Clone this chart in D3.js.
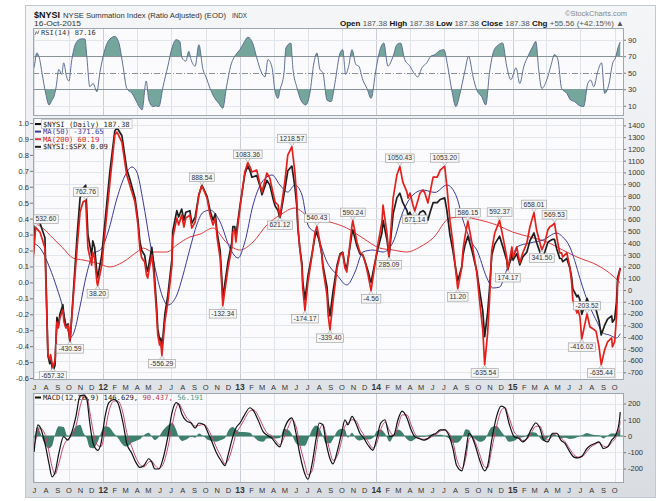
<!DOCTYPE html>
<html>
<head>
<meta charset="utf-8">
<script src="https://cdn.jsdelivr.net/npm/d3@7/dist/d3.min.js"></script>
<style>
body { margin: 0; background: #fff; }
svg { display: block; }
text { font-family: "Liberation Sans", Arial, sans-serif; }
</style>
</head>
<body>
<script>
// ---- data ----
// summation index: dates shared by $NYSI and the $NYSI:$SPX ratio
var sumDates = [
  "2011-06-27","2011-07-04","2011-07-16","2011-07-29","2011-08-06","2011-08-11","2011-08-13","2011-08-19","2011-08-25","2011-08-30","2011-09-03","2011-09-07","2011-09-15","2011-09-18","2011-09-23","2011-09-29","2011-10-04","2011-10-23","2011-10-31","2011-11-08","2011-11-15","2011-11-21","2011-12-01","2011-12-04","2011-12-09","2011-12-15","2011-12-17","2011-12-28",
  "2012-01-19","2012-02-01","2012-02-07","2012-02-20","2012-03-04","2012-03-12","2012-03-26","2012-04-03","2012-04-08","2012-04-13","2012-04-21","2012-04-26","2012-04-29","2012-05-05","2012-05-10","2012-05-15","2012-05-23","2012-05-26","2012-05-31","2012-06-03","2012-06-06","2012-06-14","2012-06-22","2012-07-03","2012-07-05","2012-07-16","2012-07-21","2012-07-29","2012-08-04","2012-08-09","2012-08-20","2012-08-25","2012-09-03","2012-09-13","2012-09-21","2012-10-05","2012-10-13","2012-10-21","2012-10-27","2012-11-01","2012-11-09","2012-11-14","2012-11-16","2012-11-30","2012-12-10","2012-12-13","2012-12-18","2012-12-21",
  "2013-01-01","2013-01-14","2013-01-22","2013-01-28","2013-02-02","2013-02-15","2013-02-24","2013-03-01","2013-03-14","2013-03-22","2013-03-30","2013-04-05","2013-04-13","2013-04-18","2013-05-01","2013-05-09","2013-05-20","2013-05-28","2013-06-02","2013-06-05","2013-06-10","2013-06-16","2013-06-18","2013-06-24","2013-07-02","2013-07-13","2013-07-21","2013-07-26","2013-08-03","2013-08-08","2013-08-11","2013-08-22","2013-08-25","2013-08-30","2013-09-07","2013-09-18","2013-09-26","2013-10-03","2013-10-09","2013-10-14","2013-10-17","2013-10-28","2013-10-30","2013-11-10","2013-11-18","2013-11-26","2013-12-02","2013-12-10","2013-12-15","2013-12-18","2013-12-28",
  "2014-01-05","2014-01-16","2014-01-19","2014-01-30","2014-02-04","2014-02-15","2014-02-25","2014-03-05","2014-03-13","2014-03-24","2014-03-27","2014-04-01","2014-04-09","2014-04-14","2014-04-28","2014-05-06","2014-05-11","2014-05-19","2014-05-25","2014-06-02","2014-06-13","2014-06-21","2014-07-03","2014-07-09","2014-07-17","2014-07-25","2014-08-02","2014-08-07","2014-08-18","2014-08-21","2014-08-26","2014-09-03","2014-09-14","2014-09-17","2014-09-27","2014-10-05","2014-10-13","2014-10-18","2014-10-26","2014-10-31","2014-11-06","2014-11-14","2014-11-27","2014-12-06","2014-12-16","2014-12-19","2014-12-30",
  "2015-01-02","2015-01-07","2015-01-12","2015-01-20","2015-01-28","2015-02-08","2015-02-16","2015-02-27","2015-03-06","2015-03-15","2015-03-20","2015-03-28","2015-04-05","2015-04-10","2015-04-18","2015-04-23","2015-04-29","2015-05-07","2015-05-12","2015-05-15","2015-05-26","2015-06-03","2015-06-08","2015-06-11","2015-06-22","2015-06-25","2015-06-30","2015-07-05","2015-07-19","2015-07-27","2015-08-04","2015-08-12","2015-08-20","2015-08-26","2015-09-04","2015-09-12","2015-09-23","2015-09-25","2015-10-01","2015-10-06","2015-10-09","2015-10-16"
];
var nysiValues = [
  250,532.6,490,357,-550,-595,-550,-657.32,-600,-272,-323,-238,-170,-272,-323,-298,-430.59,357,663,748,762.76,357,212,323,272,68,38.2,212,
  920,1318,1343,1258,978,893,748,553,357,272,238,127,102,212,298,153,-213,-383,-468,-442,-556.29,-272,-102,212,442,612,553,637,536,612,637,527,578,808,888.54,782,637,553,612,442,272,0,-132.34,187,357,493,510,408,
  697,1003,1083.36,1046,1003,1020,893,833,995,952,833,748,723,621.12,918,1148,1218.57,1003,782,553,357,187,17,-174.17,68,298,493,540.43,408,298,187,-43,-213,-339.4,-102,187,298,315,187,153,238,553,590.24,408,323,298,238,127,43,-4.56,212,
  383,578,722,468,285.09,782,978,1050.43,918,833,782,825,723,671.14,825,850,825,740,833,960,960,1020,1053.2,876,595,400,150,11.2,196,340,450,586.15,400,340,145,-110,-340,-635.54,-365,-85,340,485,592.37,450,281,174.17,366,
  280,315,366,230,315,400,536,658.01,510,400,341.5,400,510,536,553,569.53,450,315,315,281,315,196,60,-85,-196,-170,-230,-416.02,-203.52,-315,-330,-350,-480,-635.44,-510,-442,-408,-485,-440,-230,60,187.38
];
var ratioValues = [
  0.15,0.40,0.37,0.28,-0.46,-0.51,-0.47,-0.56,-0.52,-0.22,-0.27,-0.20,-0.14,-0.22,-0.28,-0.26,-0.38,0.29,0.53,0.59,0.61,0.30,0.17,0.26,0.22,0.06,0.03,0.17,
  0.70,0.95,0.97,0.92,0.71,0.65,0.53,0.39,0.26,0.20,0.17,0.09,0.07,0.15,0.22,0.12,-0.16,-0.29,-0.36,-0.35,-0.42,-0.20,-0.08,0.15,0.32,0.45,0.41,0.46,0.39,0.44,0.45,0.37,0.41,0.55,0.61,0.54,0.45,0.39,0.43,0.31,0.20,0.00,-0.10,0.13,0.25,0.35,0.35,0.29,
  0.48,0.68,0.73,0.70,0.66,0.67,0.60,0.55,0.64,0.61,0.53,0.48,0.45,0.40,0.58,0.70,0.73,0.60,0.48,0.34,0.22,0.12,0.01,-0.11,0.04,0.18,0.29,0.32,0.24,0.18,0.11,-0.03,-0.13,-0.21,-0.06,0.11,0.18,0.19,0.11,0.09,0.14,0.31,0.33,0.23,0.18,0.17,0.13,0.07,0.02,0.00,0.12,
  0.21,0.31,0.39,0.26,0.16,0.43,0.53,0.56,0.50,0.45,0.42,0.44,0.39,0.37,0.44,0.45,0.44,0.39,0.44,0.50,0.50,0.52,0.53,0.45,0.30,0.20,0.08,0.01,0.10,0.17,0.23,0.29,0.20,0.17,0.07,-0.06,-0.18,-0.34,-0.19,-0.04,0.17,0.24,0.29,0.22,0.14,0.08,0.18,
  0.14,0.16,0.18,0.11,0.16,0.19,0.26,0.31,0.25,0.19,0.16,0.19,0.25,0.26,0.27,0.27,0.21,0.15,0.15,0.13,0.15,0.09,0.03,-0.04,-0.09,-0.08,-0.11,-0.20,-0.10,-0.15,-0.16,-0.17,-0.24,-0.33,-0.27,-0.23,-0.21,-0.25,-0.23,-0.12,0.03,0.09
];
// peaks and troughs that carry a value box
var labelDates = ["2011-07-04","2011-08-19","2011-10-04","2011-11-15","2011-12-17","2012-06-06","2012-09-21","2012-11-16","2013-01-22","2013-04-18","2013-05-20","2013-06-24","2013-07-26","2013-08-30","2013-10-30","2013-12-18","2014-02-04","2014-03-05","2014-04-14","2014-07-03","2014-08-07","2014-09-03","2014-10-18","2014-11-27","2014-12-19","2015-02-27","2015-03-20","2015-04-23","2015-07-05","2015-07-19","2015-08-26"];

var ma50 = [
  ["2011-06-27",400],["2011-07-16",357],["2011-08-11",187],["2011-08-30",17],["2011-09-15",-153],["2011-09-26",-323],["2011-10-07",-400],["2011-10-15",-357],["2011-10-30",-153],["2011-11-17",127],["2011-12-04",298],["2011-12-28",357],
  ["2012-01-14",493],["2012-02-07",782],["2012-02-29",978],["2012-03-18",1046],["2012-03-31",1003],["2012-04-17",748],["2012-05-05",408],["2012-05-23",127],["2012-06-09",-68],["2012-06-22",-128],["2012-07-16",-43],["2012-08-01",120],["2012-08-20",350],["2012-09-08",560],["2012-09-24",660],["2012-10-13",680],["2012-11-09",578],["2012-12-05",357],["2012-12-27",272],
  ["2013-01-14",408],["2013-02-05",723],["2013-03-01",918],["2013-03-28",978],["2013-04-18",893],["2013-05-09",833],["2013-05-28",893],["2013-06-16",808],["2013-07-02",553],["2013-07-26",468],["2013-08-22",238],["2013-09-18",127],["2013-10-14",43],["2013-11-05",153],["2013-11-26",323],["2013-12-23",340],
  ["2014-01-19",323],["2014-02-15",408],["2014-03-13",663],["2014-04-09",808],["2014-05-06",850],["2014-06-07",830],["2014-07-09",893],["2014-08-04",791],["2014-08-21",595],["2014-09-14",400],["2014-09-27",340],["2014-10-23",110],["2014-11-09",17],["2014-11-27",25],["2014-12-16",170],
  ["2015-01-01",281],["2015-01-12",366],["2015-02-16",400],["2015-03-23",425],["2015-04-29",485],["2015-05-15",451],["2015-06-03",366],["2015-06-16",250],["2015-06-30",100],["2015-07-13",-30],["2015-07-27",-145],["2015-08-15",-272],["2015-08-31",-366],["2015-09-17",-383],["2015-10-06",-408],["2015-10-16",-371.65]
];
var ma200 = [
  ["2011-06-27",578],["2011-07-23",527],["2011-08-19",442],["2011-09-15",357],["2011-10-12",272],["2011-11-08",255],["2011-12-15",230],
  ["2012-01-19",196],["2012-02-23",238],["2012-03-31",323],["2012-04-17",357],["2012-05-13",323],["2012-06-19",323],["2012-07-16",383],["2012-08-20",451],["2012-09-16",475],["2012-10-21",527],["2012-11-27",400],
  ["2013-01-01",340],["2013-02-05",408],["2013-03-14",553],["2013-04-18",637],["2013-05-28",697],["2013-07-08",612],["2013-08-30",578],["2013-10-14",527],["2013-11-26",442],
  ["2014-01-10",357],["2014-02-15",340],["2014-03-24",323],["2014-04-28",366],["2014-06-02",442],["2014-07-17",612],["2014-08-21",620],["2014-10-05",595],["2014-11-19",553],
  ["2015-01-01",493],["2015-02-16",451],["2015-04-03",408],["2015-05-15",340],["2015-06-22",281],["2015-08-15",212],["2015-09-17",145],["2015-10-16",60.19]
];

var rsi = [
  ["2011-06-27",55],["2011-06-30",57],["2011-07-07",74],["2011-07-15",66],["2011-07-21",50],["2011-07-31",25],["2011-08-09",11],["2011-08-17",17],["2011-08-22",21],["2011-08-28",33],["2011-09-04",54],["2011-09-12",48],["2011-09-17",62],["2011-09-25",45],["2011-10-01",40],["2011-10-09",66],["2011-10-20",86],["2011-11-02",91],["2011-11-13",91],["2011-11-18",70],["2011-11-26",33],["2011-12-05",37],["2011-12-15",27],["2011-12-23",50],
  ["2012-01-03",74],["2012-01-14",88],["2012-02-01",94],["2012-02-12",86],["2012-02-23",58],["2012-03-04",31],["2012-03-18",25],["2012-03-28",17],["2012-04-06",9],["2012-04-14",5],["2012-04-25",40],["2012-05-02",17],["2012-05-13",9],["2012-05-21",10],["2012-05-29",9],["2012-06-09",33],["2012-06-22",58],["2012-07-03",80],["2012-07-14",90],["2012-07-24",88],["2012-07-30",68],["2012-08-09",64],["2012-08-17",76],["2012-08-23",66],["2012-09-03",58],["2012-09-13",84],["2012-09-24",54],["2012-10-02",45],["2012-10-13",31],["2012-10-23",21],["2012-11-05",13],["2012-11-16",7],["2012-11-26",33],["2012-12-07",58],["2012-12-21",72],
  ["2013-01-01",78],["2013-01-11",86],["2013-01-22",93],["2013-02-04",86],["2013-02-15",68],["2013-02-26",52],["2013-03-09",45],["2013-03-17",66],["2013-03-28",56],["2013-04-05",27],["2013-04-13",19],["2013-04-18",29],["2013-04-29",50],["2013-05-04",80],["2013-05-17",86],["2013-05-23",54],["2013-06-02",33],["2013-06-13",17],["2013-06-26",11],["2013-07-07",25],["2013-07-18",62],["2013-07-26",74],["2013-08-03",54],["2013-08-11",50],["2013-08-22",17],["2013-09-02",15],["2013-09-12",37],["2013-09-26",74],["2013-10-03",78],["2013-10-11",48],["2013-10-19",58],["2013-10-28",78],["2013-11-07",60],["2013-11-15",58],["2013-11-26",41],["2013-12-07",31],["2013-12-18",19],["2013-12-31",54],
  ["2014-01-11",78],["2014-01-21",86],["2014-02-01",58],["2014-02-15",70],["2014-02-25",84],["2014-03-07",86],["2014-03-18",66],["2014-04-01",58],["2014-04-11",50],["2014-04-22",45],["2014-05-03",56],["2014-05-16",62],["2014-05-27",70],["2014-06-07",72],["2014-06-17",76],["2014-07-01",78],["2014-07-11",58],["2014-07-22",29],["2014-08-02",9],["2014-08-12",23],["2014-08-26",52],["2014-09-05",70],["2014-09-17",45],["2014-09-27",29],["2014-10-10",21],["2014-10-21",11],["2014-10-31",50],["2014-11-11",76],["2014-11-24",84],["2014-12-05",86],["2014-12-16",58],["2014-12-27",41.5],
  ["2015-01-10",56],["2015-01-20",37],["2015-01-31",58],["2015-02-11",70],["2015-02-24",82],["2015-03-04",88],["2015-03-12",52],["2015-03-20",31],["2015-04-02",41],["2015-04-13",58],["2015-04-23",72],["2015-05-02",66],["2015-05-12",31],["2015-05-26",25],["2015-06-05",17],["2015-06-16",15],["2015-06-26",11],["2015-07-10",9],["2015-07-21",37],["2015-07-29",41],["2015-08-06",33],["2015-08-17",52],["2015-08-27",62],["2015-09-04",25],["2015-09-15",35],["2015-09-26",62],["2015-10-03",68],["2015-10-11",82],["2015-10-16",87.16]
];

// MACD(12,26,9): line, signal and histogram on shared dates
var macdDates = [
  "2011-06-30","2011-07-10","2011-07-15","2011-07-29","2011-08-09","2011-08-17","2011-08-25","2011-09-04","2011-09-17","2011-09-28","2011-10-06","2011-10-20","2011-10-31","2011-11-10","2011-11-18","2011-11-26","2011-12-05","2011-12-18","2011-12-26",
  "2012-01-06","2012-01-16","2012-01-30","2012-02-09","2012-02-23","2012-03-04","2012-03-18","2012-03-28","2012-04-08","2012-04-19","2012-05-02","2012-05-10","2012-05-18","2012-05-29","2012-06-09","2012-06-22","2012-07-03","2012-07-14","2012-07-21","2012-07-30","2012-08-12","2012-08-23","2012-09-03","2012-09-13","2012-09-27","2012-10-08","2012-10-18","2012-10-29","2012-11-11","2012-11-22","2012-11-30","2012-12-13","2012-12-21",
  "2013-01-01","2013-01-11","2013-01-28","2013-02-07","2013-02-20","2013-03-04","2013-03-14","2013-03-28","2013-04-07","2013-04-18","2013-04-29","2013-05-12","2013-05-20","2013-05-31","2013-06-10","2013-06-24","2013-07-02","2013-07-13","2013-07-24","2013-08-01","2013-08-11","2013-08-19","2013-08-30","2013-09-07","2013-09-18","2013-10-01","2013-10-09","2013-10-17","2013-10-28","2013-11-07","2013-11-18","2013-11-29","2013-12-10","2013-12-23",
  "2014-01-02","2014-01-13","2014-01-24","2014-02-06","2014-02-17","2014-02-28","2014-03-11","2014-03-24","2014-04-04","2014-04-14","2014-04-25","2014-05-09","2014-05-19","2014-05-30","2014-06-10","2014-06-21","2014-07-03","2014-07-14","2014-07-25","2014-08-04","2014-08-18","2014-08-29","2014-09-06","2014-09-14","2014-09-24","2014-10-05","2014-10-18","2014-10-26","2014-11-06","2014-11-19","2014-12-01","2014-12-11","2014-12-22",
  "2015-01-05","2015-01-18","2015-01-28","2015-02-08","2015-02-19","2015-03-04","2015-03-15","2015-03-25","2015-04-05","2015-04-18","2015-04-29","2015-05-10","2015-05-21","2015-06-03","2015-06-14","2015-06-25","2015-07-05","2015-07-19","2015-07-29","2015-08-09","2015-08-20","2015-09-01","2015-09-12","2015-09-23","2015-10-04","2015-10-14","2015-10-16"
];
var macdLine = [
  -98,69,59,-46,-172,-251,-224,-109,-4,-25,6,121,247,251,226,80,-46,-88,-46,
  121,205,226,205,80,-46,-109,-161,-193,-182,-140,-161,-203,-203,-140,-4,142,205,195,132,90,80,48,80,69,17,-36,-98,-151,-182,-119,-4,48,
  80,121,174,153,90,27,6,-15,-46,-67,38,100,111,17,-109,-235,-266,-172,-15,80,69,-36,-140,-172,-98,27,100,69,121,80,17,-15,-57,-88,
  -15,80,100,-4,6,100,153,111,38,-4,-15,-25,-15,6,17,38,38,6,-77,-182,-214,-88,17,-4,-67,-151,-214,-182,-25,121,184,174,80,
  -4,-15,-36,-15,38,80,48,-25,-36,17,17,-25,-46,-98,-130,-135,-125,-77,-57,-46,-36,-77,-67,-25,6,100,146.629
];
var macdSignal = [
  -60,20,50,10,-100,-190,-235,-170,-60,-20,-5,60,180,240,240,150,30,-60,-65,
  30,150,215,215,140,20,-70,-130,-175,-190,-160,-155,-180,-200,-175,-70,60,170,200,165,110,85,60,65,72,40,-5,-65,-125,-170,-150,-60,10,
  55,95,155,160,120,60,20,0,-30,-55,-10,65,100,60,-50,-175,-240,-215,-80,30,70,10,-95,-150,-125,-20,60,80,100,95,45,5,-35,-75,
  -45,40,85,30,0,60,130,130,70,15,-10,-20,-18,-3,10,30,38,20,-35,-140,-200,-130,-20,-5,-45,-115,-190,-195,-80,60,155,175,115,
  25,-5,-28,-20,15,60,60,5,-25,0,15,-10,-35,-80,-115,-130,-128,-95,-68,-52,-40,-62,-68,-40,-10,60,90.437
];
var macdHist = [
  -30,60,30,-50,-75,-60,10,60,55,-5,10,60,70,15,-15,-70,-75,-30,20,
  60,55,15,-10,-55,-65,-40,-30,-20,5,20,-5,-25,-5,35,65,80,40,-5,-30,-20,-5,-10,15,-5,-25,-30,-35,-25,-12,30,55,40,
  25,25,20,-5,-30,-35,-15,-15,-15,-12,45,35,10,-45,-60,-60,-25,40,65,50,0,-45,-45,-20,30,45,40,-10,20,-15,-28,-20,-22,-12,
  30,40,15,-35,6,40,25,-20,-32,-20,-5,-5,3,9,7,8,0,-14,-42,-42,-14,42,37,1,-22,-36,-24,13,55,61,29,-1,-35,
  -29,-10,-8,5,23,20,-12,-30,-11,17,2,-15,-11,-18,-15,-5,3,18,11,6,4,-15,1,15,16,40,56.191
];

var mainTicksRight = d3.range(-700, 1401, 100);
var mainTicksLeft = d3.range(-6, 11).map(function(d){ return d / 10; });
var rsiTicks = [10, 30, 50, 70, 90];
var macdTicks = [-200, -100, 0, 100, 200];
var monthLetters = ["J","F","M","A","M","J","J","A","S","O","N","D"];

// ---- layout ----
var width = 662, height = 501;
var left = 33, right = 624;
var rsiTop = 28, rsiBottom = 116, mainTop = 118, mainBottom = 380, macdTop = 393, macdBottom = 483;

var parse = d3.timeParse("%Y-%m-%d");
function zip(dates, vals){ return dates.map(function(d, i){ return [parse(d), vals[i]]; }); }
function pairs(arr){ return arr.map(function(d){ return [parse(d[0]), d[1]]; }); }

var nysi = zip(sumDates, nysiValues);
var ratio = zip(sumDates, ratioValues);
var ma50Data = pairs(ma50), ma200Data = pairs(ma200), rsiData = pairs(rsi);
var macdData = zip(macdDates, macdLine), sigData = zip(macdDates, macdSignal), histData = zip(macdDates, macdHist);

var x = d3.scaleTime().domain([parse("2011-06-27"), parse("2015-10-26")]).range([left, right]);
var yRsi = d3.scaleLinear().domain([0, 100]).range([114, 31.5]);
var yN = d3.scaleLinear().domain([0, 1400]).range([290, 125.4]);
var yR = d3.scaleLinear().domain([0, 1]).range([282.4, 123]);
var yM = d3.scaleLinear().domain([-200, 200]).range([468.5, 403.5]);

var svg = d3.select("body").append("svg").attr("width", width).attr("height", height);
var defs = svg.append("defs");
var grad = defs.append("linearGradient").attr("id", "frameGrad").attr("x1", 0).attr("y1", 0).attr("x2", 0).attr("y2", 1);
grad.append("stop").attr("offset", "0%").attr("stop-color", "#f5f6f8");
grad.append("stop").attr("offset", "100%").attr("stop-color", "#d9dde2");

svg.append("rect").attr("x", 25.5).attr("y", 5.5).attr("width", 630).attr("height", 492)
  .attr("fill", "url(#frameGrad)").attr("stroke", "#c3c8ce");

function clip(id, top, bottom){
  defs.append("clipPath").attr("id", id).append("rect")
    .attr("x", left).attr("y", top).attr("width", right - left).attr("height", bottom - top);
}
clip("clipRsi", rsiTop, rsiBottom);
clip("clipMain", mainTop, mainBottom);
clip("clipMacd", macdTop, macdBottom);
defs.append("clipPath").attr("id", "clipHi").append("rect")
  .attr("x", left).attr("y", rsiTop).attr("width", right - left).attr("height", yRsi(70) - rsiTop);
defs.append("clipPath").attr("id", "clipLo").append("rect")
  .attr("x", left).attr("y", yRsi(30)).attr("width", right - left).attr("height", rsiBottom - yRsi(30));

var quarters = x.ticks(d3.timeMonth.every(3));

function panelBg(top, bottom){
  svg.append("rect").attr("x", left).attr("y", top).attr("width", right - left).attr("height", bottom - top)
    .attr("fill", "#fbfbfd");
  svg.append("g").selectAll("line").data(quarters).enter().append("line")
    .attr("x1", function(d){ return Math.round(x(d)) + 0.5; })
    .attr("x2", function(d){ return Math.round(x(d)) + 0.5; })
    .attr("y1", top).attr("y2", bottom)
    .attr("stroke", function(d){ return d.getMonth() === 0 ? "#c9ced6" : "#dfe2e7"; });
}
function panelBorder(top, bottom){
  svg.append("rect").attr("x", left + 0.5).attr("y", top + 0.5).attr("width", right - left - 1).attr("height", bottom - top - 1)
    .attr("fill", "none").attr("stroke", "#9ea6b0");
}
function hLines(values, scale, color){
  svg.append("g").selectAll("line").data(values).enter().append("line")
    .attr("x1", left).attr("x2", right)
    .attr("y1", function(d){ return Math.round(scale(d)) + 0.5; })
    .attr("y2", function(d){ return Math.round(scale(d)) + 0.5; })
    .attr("stroke", color);
}
function rightAxis(scale, values){
  var g = svg.append("g").attr("transform", "translate(" + right + ",0)")
    .call(d3.axisRight(scale).tickValues(values).tickSize(2).tickPadding(2).tickFormat(function(d){ return String(d); }));
  g.select(".domain").remove();
  g.attr("font-family", "Liberation Sans, Arial, sans-serif").attr("font-size", 7.5);
  g.selectAll("text").attr("fill", "#333");
  g.selectAll("line").attr("stroke", "#777");
}

// ---- header ----
svg.append("text").attr("x", 34).attr("y", 18).attr("textLength", 26).attr("lengthAdjust", "spacingAndGlyphs")
  .style("font-size", "9.5px").style("font-weight", "bold").attr("fill", "#111").text("$NYSI");
svg.append("text").attr("x", 63).attr("y", 17.5).attr("textLength", 163).attr("lengthAdjust", "spacingAndGlyphs")
  .style("font-size", "7.2px").attr("fill", "#333").text("NYSE Summation Index (Ratio Adjusted) (EOD)");
svg.append("text").attr("x", 232).attr("y", 17.5).attr("textLength", 15).attr("lengthAdjust", "spacingAndGlyphs")
  .style("font-size", "6.5px").attr("fill", "#333").text("INDX");
svg.append("text").attr("x", 34).attr("y", 25.5).attr("textLength", 47).attr("lengthAdjust", "spacingAndGlyphs")
  .style("font-size", "8px").attr("fill", "#333").text("16-Oct-2015");
svg.append("text").attr("x", 565).attr("y", 16).attr("textLength", 62).attr("lengthAdjust", "spacingAndGlyphs")
  .style("font-size", "7.5px").attr("fill", "#888").text("©StockCharts.com");
var quote = svg.append("text").attr("x", 340).attr("y", 25.5).attr("textLength", 284).attr("lengthAdjust", "spacingAndGlyphs")
  .style("font-size", "8px").attr("fill", "#555");
[["Open", true], [" 187.38 ", false], ["High", true], [" 187.38 ", false], ["Low", true], [" 187.38 ", false],
 ["Close", true], [" 187.38 ", false], ["Chg", true], [" +55.56 (+42.15%) ▲", false]].forEach(function(p){
  quote.append("tspan").style("font-weight", p[1] ? "bold" : "normal").attr("fill", p[1] ? "#111" : "#555").text(p[0]);
});

// ---- RSI panel ----
panelBg(rsiTop, rsiBottom);
hLines([10, 90], yRsi, "#e2e5ea");
hLines([30, 70], yRsi, "#8c9198");
svg.append("line").attr("x1", left).attr("x2", right).attr("y1", Math.round(yRsi(50)) + 0.5).attr("y2", Math.round(yRsi(50)) + 0.5)
  .attr("stroke", "#8c9198").attr("stroke-dasharray", "6,2,1,2");
var rsiG = svg.append("g").attr("clip-path", "url(#clipRsi)");
rsiG.append("path").datum(rsiData).attr("clip-path", "url(#clipHi)").attr("fill", "#74a69c")
  .attr("d", d3.area().x(function(d){ return x(d[0]); }).y0(yRsi(70)).y1(function(d){ return yRsi(d[1]); }).curve(d3.curveMonotoneX));
rsiG.append("path").datum(rsiData).attr("clip-path", "url(#clipLo)").attr("fill", "#74a69c")
  .attr("d", d3.area().x(function(d){ return x(d[0]); }).y0(yRsi(30)).y1(function(d){ return yRsi(d[1]); }).curve(d3.curveMonotoneX));
rsiG.append("path").datum(rsiData).attr("fill", "none").attr("stroke", "#5e6f96").attr("stroke-width", 1)
  .attr("d", d3.line().x(function(d){ return x(d[0]); }).y(function(d){ return yRsi(d[1]); }).curve(d3.curveMonotoneX));
panelBorder(rsiTop, rsiBottom);
rightAxis(yRsi, rsiTicks);
svg.append("path").attr("d", "M35,35 L36.3,31.5 L37.6,34 L39,30.5").attr("fill", "none").attr("stroke", "#666").attr("stroke-width", 0.8);
svg.append("text").attr("x", 41).attr("y", 35).style("font-family", "DejaVu Sans Mono, monospace").style("font-size", "7px")
  .attr("fill", "#333").text("RSI(14) 87.16");

// ---- main panel ----
panelBg(mainTop, mainBottom);
hLines(mainTicksRight, yN, "#e3e6ea");
var mainG = svg.append("g").attr("clip-path", "url(#clipMain)");
function lineN(scale){ return d3.line().x(function(d){ return x(d[0]); }).y(function(d){ return scale(d[1]); }); }
mainG.append("path").datum(ma200Data).attr("fill", "none").attr("stroke", "#e03a3a").attr("stroke-width", 1)
  .attr("d", lineN(yN).curve(d3.curveMonotoneX));
mainG.append("path").datum(ma50Data).attr("fill", "none").attr("stroke", "#3a3a9c").attr("stroke-width", 1)
  .attr("d", lineN(yN).curve(d3.curveMonotoneX));
mainG.append("path").datum(ratio).attr("fill", "none").attr("stroke", "#1e1e1e").attr("stroke-width", 1.7)
  .attr("stroke-linejoin", "round").attr("d", lineN(yR));
mainG.append("path").datum(nysi).attr("fill", "none").attr("stroke", "#e3201b").attr("stroke-width", 1.7)
  .attr("stroke-linejoin", "round").attr("d", lineN(yN));

// value boxes on peaks and troughs
var labG = svg.append("g");
labelDates.forEach(function(ds){
  var i = sumDates.indexOf(ds), v = nysiValues[i];
  var nb = [nysiValues[i - 1], nysiValues[i + 1]].filter(function(a){ return a !== undefined; });
  var peak = nb.every(function(a){ return v > a; });
  var px = x(parse(ds)), py = yN(v);
  var t = labG.append("text").style("font-size", "6.8px").attr("fill", "#333").text(v.toFixed(2));
  var w = t.node().getComputedTextLength() + 4, h = 8.5;
  var bx = Math.max(left + 0.5, Math.min(right - w - 1, px - w / 2));
  var by = peak ? py - 4 - h : py + 4;
  var ey = peak ? by + h : by;
  labG.insert("path", "text").attr("d", "M" + (px - 2.5) + "," + ey + " L" + px + "," + (peak ? py - 0.5 : py + 0.5) + " L" + (px + 2.5) + "," + ey)
    .attr("fill", "#f6f6f6").attr("stroke", "#999").attr("stroke-width", 0.6);
  labG.insert("rect", "text").attr("x", bx).attr("y", by).attr("width", w).attr("height", h)
    .attr("fill", "#f6f6f6").attr("stroke", "#999").attr("stroke-width", 0.6);
  t.attr("x", bx + 2).attr("y", by + h - 2);
});

panelBorder(mainTop, mainBottom);
rightAxis(yN, mainTicksRight);
var la = svg.append("g").attr("transform", "translate(" + left + ",0)")
  .call(d3.axisLeft(yR).tickValues(mainTicksLeft).tickSize(3).tickPadding(1).tickFormat(function(d){ return d.toFixed(1); }));
la.select(".domain").remove();
la.attr("font-family", "Liberation Sans, Arial, sans-serif").attr("font-size", 7.5);
la.selectAll("text").attr("fill", "#333");
la.selectAll("line").attr("stroke", "#777");

// legend
var legend = [
  ["$NYSI (Daily) 187.38", "#111", "#222"],
  ["MA(50) -371.65", "#3a3a9c", "#3a3a9c"],
  ["MA(200) 60.19", "#e03a3a", "#d42020"],
  ["$NYSI:$SPX 0.09", "#1e1e1e", "#222"]
];
legend.forEach(function(l, i){
  var cy = 124 + i * 7.6;
  var t = svg.append("text").attr("x", 43).attr("y", cy + 2.5).style("font-family", "DejaVu Sans Mono, monospace")
    .style("font-size", "7.2px").attr("fill", l[2]).text(l[0]);
  if (i === 0) {
    var w = t.node().getComputedTextLength();
    svg.insert("rect", function(){ return t.node(); }).attr("x", 41.5).attr("y", cy - 4.3).attr("width", w + 4).attr("height", 8.6)
      .attr("fill", "#fff").attr("stroke", "#aaa").attr("stroke-width", 0.6);
  }
  svg.append("line").attr("x1", 35).attr("x2", 41).attr("y1", cy).attr("y2", cy).attr("stroke", l[1]).attr("stroke-width", 2);
});

// month rows
var months = d3.timeMonths(parse("2011-07-01"), parse("2015-10-02"));
function monthRow(yBase){
  svg.append("g").selectAll("text").data(months).enter().append("text")
    .attr("x", function(d){ return x(d); }).attr("y", yBase).attr("text-anchor", "middle")
    .style("font-size", function(d){ return d.getMonth() === 0 ? "8.5px" : "7.5px"; })
    .style("font-weight", function(d){ return d.getMonth() === 0 ? "bold" : "normal"; })
    .attr("fill", "#333")
    .text(function(d){ return d.getMonth() === 0 ? d3.timeFormat("%y")(d) : monthLetters[d.getMonth()]; });
}
monthRow(390);
monthRow(493);

// ---- MACD panel ----
panelBg(macdTop, macdBottom);
hLines(macdTicks, yM, "#e3e6ea");
var macdG = svg.append("g").attr("clip-path", "url(#clipMacd)");
macdG.append("path").datum(histData).attr("fill", "#3f7f6d")
  .attr("d", d3.area().x(function(d){ return x(d[0]); }).y0(yM(0)).y1(function(d){ return yM(d[1]); }).curve(d3.curveMonotoneX));
macdG.append("line").attr("x1", left).attr("x2", right).attr("y1", yM(0)).attr("y2", yM(0)).attr("stroke", "#3f7f6d").attr("stroke-width", 1);
macdG.append("path").datum(sigData).attr("fill", "none").attr("stroke", "#c24a6c").attr("stroke-width", 1)
  .attr("d", lineN(yM).curve(d3.curveMonotoneX));
macdG.append("path").datum(macdData).attr("fill", "none").attr("stroke", "#111").attr("stroke-width", 1.2)
  .attr("d", lineN(yM).curve(d3.curveMonotoneX));
panelBorder(macdTop, macdBottom);
rightAxis(yM, macdTicks);
svg.append("line").attr("x1", 35).attr("x2", 41).attr("y1", 397.5).attr("y2", 397.5).attr("stroke", "#111").attr("stroke-width", 2);
var ml = svg.append("text").attr("x", 43).attr("y", 400).style("font-family", "DejaVu Sans Mono, monospace").style("font-size", "7.2px");
ml.append("tspan").attr("fill", "#222").text("MACD(12,26,9) 146.629, ");
ml.append("tspan").attr("fill", "#c0394f").text("90.437, ");
ml.append("tspan").attr("fill", "#4a9a88").text("56.191");
</script>
</body>
</html>
